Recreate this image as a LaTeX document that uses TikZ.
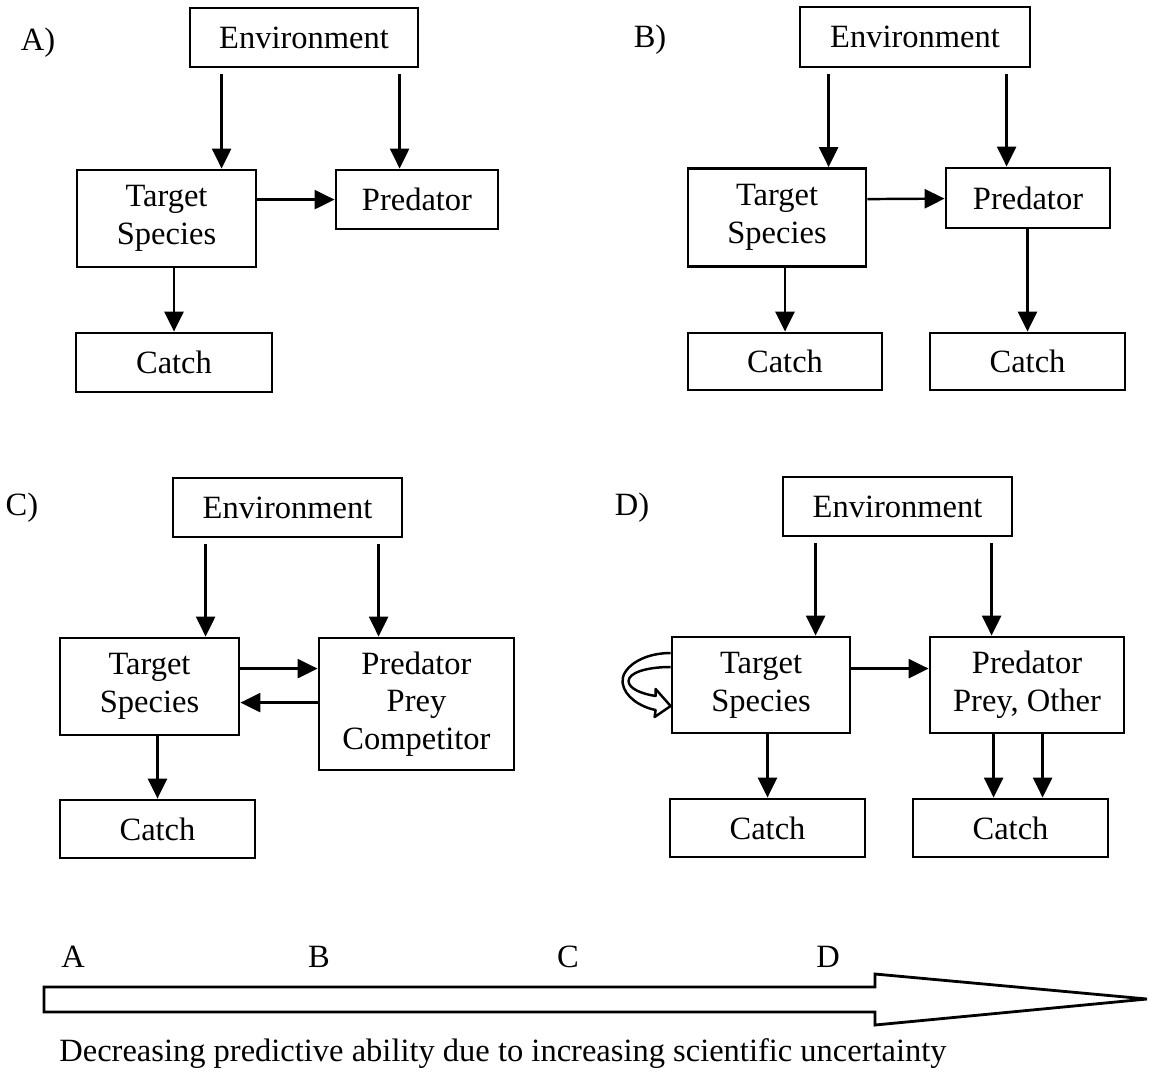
\documentclass[tikz,border=0pt]{standalone}
\usepackage{fontspec}
\setmainfont{Liberation Serif}
\usetikzlibrary{arrows.meta,calc}

\begin{document}
\begin{tikzpicture}[
  x=0.02cm, y=-0.02cm,
  font=\fontsize{18.5}{21.5}\selectfont,
  box/.style={draw,line width=1.6pt,align=center,inner sep=0pt},
  sz/.style 2 args={minimum width=#1*0.02cm,minimum height=#2*0.02cm},
  lab/.style={inner sep=0pt},
  arr/.style={-{Triangle[length=0.4cm,width=0.38cm]},line width=1.4pt},
  loopar/.style={line width=1.4pt,line join=round},
  bigarr/.style={line width=1.6pt,line join=miter}
]
\useasboundingbox (0,0) rectangle (1149,1076);

% panel A
\node[lab] (labA) at (38,43) {A)};
\node[box,sz={228}{59}] (envA) at (304,37.5) {Environment};
\node[box,sz={179}{97}] (tsA) at (166.5,218.5) {Target\\Species};
\node[box,sz={162}{59}] (prA) at (417,199.5) {Predator};
\node[box,sz={196}{59}] (caA) at (174,362.5) {Catch};
\draw[arr] ($(envA.south west)+(33,6)$) -- ($(tsA.north west)+(146,0)$);
\draw[arr] ($(envA.south west)+(211,6)$) -- ($(prA.north west)+(65,0)$);
\draw[arr] ($(tsA.north east)+(0,31)$) -- ($(prA.north west)+(0,31)$);
\draw[arr] (caA.north |- tsA.south) -- (caA.north);

% panel B
\node[lab] (labB) at (650,40) {B)};
\node[box,sz={230}{60}] (envB) at (915,37) {Environment};
\node[box,sz={178}{98}] (tsB) at (777,217.5) {Target\\Species};
\node[box,sz={164}{60}] (prB) at (1028,198) {Predator};
\node[box,sz={194}{57}] (caB) at (785,361.5) {Catch};
\node[box,sz={195}{57}] (caBp) at (1027.5,361.5) {Catch};
\draw[arr] ($(envB.south west)+(30,6)$) -- ($(tsB.north west)+(142,0)$);
\draw[arr] ($(envB.south west)+(208,6)$) -- ($(prB.north west)+(62,0)$);
\draw[arr] ($(tsB.north east)+(0,32)$) -- ($(prB.north west)+(0,32)$);
\draw[arr] (caB.north |- tsB.south) -- (caB.north);
\draw[arr] (caBp.north |- prB.south) -- (caBp.north);

% panel C
\node[lab] (labC) at (22,508) {C)};
\node[box,sz={229}{59}] (envC) at (287.5,507.5) {Environment};
\node[box,sz={179}{97}] (tsC) at (149.5,686.5) {Target\\Species};
\node[box,sz={195}{132}] (pcC) at (416.5,704) {Predator\\Prey\\Competitor};
\node[box,sz={195}{58}] (caC) at (157.5,829) {Catch};
\draw[arr] ($(envC.south west)+(34,6)$) -- ($(tsC.north west)+(147,0)$);
\draw[arr] ($(envC.south west)+(207,6)$) -- ($(pcC.north west)+(61,0)$);
\draw[arr] ($(tsC.north east)+(0,32)$) -- ($(pcC.north west)+(0,32)$);
\draw[arr] ($(pcC.north west)+(0,66)$) -- ($(tsC.north east)+(0,66)$);
\draw[arr] (caC.north |- tsC.south) -- (caC.north);

% panel D
\node[lab] (labD) at (632,508) {D)};
\node[box,sz={229}{59}] (envD) at (897.5,506.5) {Environment};
\node[box,sz={178}{96}] (tsD) at (761,685) {Target\\Species};
\node[box,sz={194}{96}] (pcD) at (1027,685) {Predator\\Prey, Other};
\node[box,sz={195}{58}] (caD) at (767.5,828) {Catch};
\node[box,sz={195}{58}] (caDp) at (1010.5,828) {Catch};
\draw[arr] ($(envD.south west)+(34,6)$) -- ($(tsD.north west)+(145,0)$);
\draw[arr] ($(envD.south west)+(210,6)$) -- ($(pcD.north west)+(63,0)$);
\draw[arr] ($(tsD.north east)+(0,33)$) -- ($(pcD.north west)+(0,33)$);
\draw[arr] (caD.north |- tsD.south) -- (caD.north);
\draw[arr] ($(pcD.south west)+(65,0)$) -- ($(caDp.north west)+(82,0)$);
\draw[arr] ($(pcD.south west)+(114,0)$) -- ($(caDp.north west)+(131,0)$);
% self loop, hollow ribbon arrow
\begin{scope}[shift={(tsD.west)}]
  \draw[loopar] (0,-32) .. controls (-30,-32) and (-50,-16) .. (-48,-2)
    .. controls (-46,12) and (-30,22) .. (-15,25) -- (-16,32) -- (0,21)
    -- (-15,4) -- (-15,11) .. controls (-28,9) and (-42,4) .. (-42,-4)
    .. controls (-42,-12) and (-25,-18) .. (0,-18);
\end{scope}

% scale of uncertainty
\node[lab] (sA) at (73,957) {A};
\node[lab] (sB) at (319,957) {B};
\node[lab] (sC) at (568,957) {C};
\node[lab] (sD) at (828,957) {D};
\draw[bigarr] (44,987) -- (875,987) -- (875,974) -- (1147,999)
  -- (875,1025) -- (875,1012) -- (44,1012) -- cycle;
\node[lab,anchor=west] (cap) at (59,1054)
  {Decreasing predictive ability due to increasing scientific uncertainty};
\end{tikzpicture}
\end{document}
